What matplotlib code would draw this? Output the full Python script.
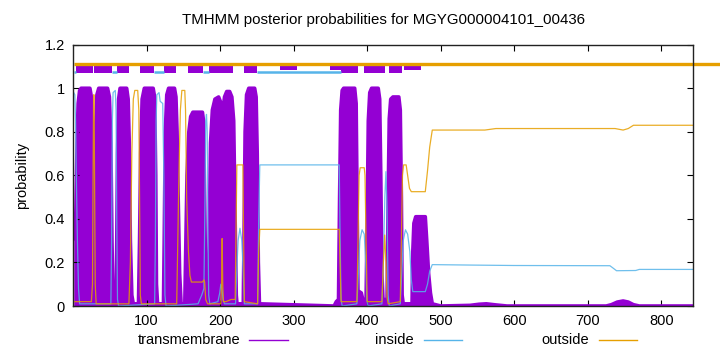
import matplotlib
matplotlib.use("Agg")
import matplotlib.pyplot as plt
from matplotlib.lines import Line2D
from matplotlib.patches import Rectangle

plt.rcParams['font.family'] = ['Liberation Sans', 'DejaVu Sans']

TITLE = "TMHMM posterior probabilities for MGYG000004101_00436"
SEQ_LEN = 843

# transmembrane posterior (key points)
tm_x = [1, 3, 4, 5.5, 7, 9, 11, 23, 25, 26.5, 27.5, 28.3, 29.2, 30.5, 32.5, 35, 47, 49.5, 51.5, 53, 54.5,
        58.5, 59.5, 60.5, 62, 64, 73, 75, 76.5, 78, 80, 82, 89, 90.5, 92, 94, 97, 109, 111, 112.5, 113.5, 115,
        123, 124, 125.5, 127.5, 130, 138, 140, 141.5, 143, 145, 147, 152, 153.5, 155, 157.5, 160, 163, 176,
        177.5, 179, 180.5, 182, 184, 185.5, 187, 189.5, 193, 198, 201.5, 202.8, 204, 206, 209, 213, 216,
        218.5, 220.5, 222, 223, 231.5, 232.5, 234, 236, 239, 247, 249, 250.5, 252, 253.5, 355, 358, 361,
        362.5, 364, 366, 368, 383, 385, 386.5, 387.5, 392, 394, 398.5, 400, 401.5, 403.5, 406, 415, 417,
        418.5, 420, 421.5, 427, 428.5, 430, 432, 435, 443, 445, 446.5, 447.5, 449, 461, 462, 463.5, 466,
        479, 481, 483.5, 486, 488.5, 500, 540, 552, 562, 575, 590, 725, 732, 740, 748, 755, 762, 770, 843]
tm_p = [0.31, 0.33, 0.45, 0.75, 0.93, 0.99, 1.0, 1.0, 0.96, 0.8, 0.3, 0.01, 0.3, 0.8, 0.97, 1.0, 1.0, 0.96,
        0.75, 0.3, 0.01, 0.01, 0.3, 0.7, 0.95, 1.0, 1.0, 0.95, 0.75, 0.3, 0.05, 0.01, 0.01, 0.3, 0.7, 0.95,
        1.0, 1.0, 0.96, 0.6, 0.1, 0.01, 0.01, 0.3, 0.8, 0.97, 1.0, 1.0, 0.96, 0.8, 0.5, 0.15, 0.01, 0.01,
        0.3, 0.6, 0.8, 0.87, 0.89, 0.89, 0.85, 0.5, 0.1, 0.01, 0.01, 0.4, 0.75, 0.9, 0.95, 0.96, 0.93, 0.6,
        0.9, 0.96, 0.985, 0.985, 0.96, 0.85, 0.4, 0.05, 0.01, 0.01, 0.3, 0.8, 0.97, 1.0, 1.0, 0.96, 0.7,
        0.2, 0.01, 0.0, 0.02, 0.03, 0.5, 0.9, 0.99, 1.0, 1.0, 0.93, 0.4, 0.07, 0.06, 0.03, 0.03, 0.4, 0.85,
        0.98, 1.0, 1.0, 0.95, 0.6, 0.15, 0.03, 0.03, 0.5, 0.86, 0.95, 0.96, 0.96, 0.9, 0.5, 0.05, 0.01,
        0.01, 0.25, 0.38, 0.41, 0.41, 0.3, 0.15, 0.06, 0.01, 0.0, 0.003, 0.008, 0.01, 0.005, 0.0, 0.0,
        0.006, 0.018, 0.023, 0.018, 0.006, 0.0, 0.0]

# inside posterior
in_x = [1, 2.5, 3.5, 4.5, 6, 7.5, 9, 51.5, 52.5, 53.5, 54.5, 57.5, 58.5, 59.5, 60.5, 62, 111, 112, 113, 114,
        117, 118.5, 122, 123.5, 125, 126.5, 170, 175, 178, 179.5, 180.5, 181.5, 182.5, 183.5, 184.5, 186,
        197, 199.5, 201, 202.5, 204, 206, 221, 222.5, 224.5, 227, 229.5, 231.5, 233, 251, 252.5, 254, 362,
        363, 364.5, 366, 386, 388, 390, 393, 396, 398, 399.5, 401, 420, 422, 424, 425.5, 427, 428.5, 430,
        445, 447, 449, 452, 455, 458, 460, 462, 479, 482, 485, 488.5, 540, 600, 730, 734, 739, 765, 770, 843]
in_p = [0.98, 0.97, 0.85, 0.6, 0.3, 0.08, 0.01, 0.01, 0.3, 0.85, 0.98, 0.99, 0.9, 0.4, 0.03, 0.0, 0.01, 0.3,
        0.85, 0.97, 0.98, 0.94, 0.93, 0.6, 0.05, 0.0, 0.01, 0.05, 0.08, 0.5, 0.85, 0.88, 0.8, 0.35, 0.05,
        0.01, 0.02, 0.06, 0.1, 0.08, 0.03, 0.01, 0.01, 0.15, 0.3, 0.357, 0.3, 0.15, 0.01, 0.01, 0.4, 0.648,
        0.648, 0.35, 0.03, 0.0, 0.01, 0.15, 0.3, 0.35, 0.33, 0.2, 0.03, 0.0, 0.01, 0.2, 0.5, 0.617, 0.45,
        0.05, 0.0, 0.01, 0.15, 0.3, 0.35, 0.33, 0.25, 0.12, 0.066, 0.066, 0.1, 0.16, 0.19, 0.188, 0.186,
        0.185, 0.175, 0.162, 0.163, 0.168, 0.168]

# outside posterior
out_x = [1, 25, 26.5, 27.3, 28, 28.6, 29.3, 30.2, 31.5, 76, 78, 80, 82, 84, 88, 89.5, 90.5, 91.5, 93, 141,
         142.5, 144, 146, 148, 152, 153, 154.5, 157, 159, 161, 176, 178, 179, 180.5, 183, 201, 202, 202.8,
         203.6, 204.5, 208, 215, 220.5, 221.5, 222.8, 231, 232, 233, 251, 252.5, 254, 362, 363, 364.5, 386,
         387.5, 389, 390.5, 396, 397, 398.5, 400, 420, 422, 423.8, 425.5, 427, 428.5, 445, 446.5, 448, 449.5,
         453, 455, 457.5, 460, 479, 482, 485, 488.5, 560, 575, 737, 748, 755, 762, 843]
out_p = [0.02, 0.02, 0.1, 0.6, 0.97, 0.97, 0.6, 0.1, 0.01, 0.01, 0.2, 0.7, 0.95, 0.99, 0.99, 0.9, 0.5, 0.05,
         0.01, 0.01, 0.3, 0.6, 0.9, 0.99, 0.99, 0.9, 0.5, 0.25, 0.14, 0.11, 0.11, 0.12, 0.11, 0.03, 0.01,
         0.01, 0.1, 0.31, 0.1, 0.02, 0.02, 0.03, 0.03, 0.3, 0.648, 0.648, 0.3, 0.02, 0.01, 0.25, 0.352,
         0.352, 0.2, 0.02, 0.02, 0.3, 0.6, 0.635, 0.635, 0.6, 0.3, 0.02, 0.02, 0.2, 0.326, 0.2, 0.04, 0.01,
         0.02, 0.3, 0.6, 0.648, 0.648, 0.6, 0.54, 0.525, 0.525, 0.62, 0.73, 0.808, 0.808, 0.815, 0.815,
         0.808, 0.815, 0.83, 0.83]

# predicted topology (top strip)
tm_start = [3.5, 29, 59.5, 91.4, 124, 156, 185.5, 233, 364, 396, 430]
tm_end = [27.7, 52.5, 76.8, 110.8, 140.5, 177, 217.7, 250.5, 387, 423.6, 448]
extra_start = [282, 349.7, 450.6]
extra_end = [305, 364, 473.4]
inside_start = [1, 52.5, 110.8, 177, 250.5]
inside_end = [3.5, 59.5, 124, 185.5, 364]

PURPLE = '#9400D3'
BLUE = '#56B4E9'
ORANGE = '#E69F00'

W, H = 720, 352
fig = plt.figure(figsize=(W / 100, H / 100), dpi=100)
L, R, T, B = 73, 693, 44.7, 306
ax = fig.add_axes([L / W, 1 - B / H, (R - L) / W, (B - T) / H])

ax.fill_between(tm_x, 0, tm_p, color=PURPLE, lw=0)
ax.plot(tm_x, tm_p, color=PURPLE, lw=2.6)
ax.plot(in_x, in_p, color=BLUE, lw=0.9, alpha=0.85)
ax.plot(out_x, out_p, color=ORANGE, lw=0.9, alpha=0.85)

# top strip
for s, e in zip(extra_start, extra_end):
    ax.add_patch(Rectangle((s, 1.084), e - s, 1.11 - 1.084, color=PURPLE, lw=0))
for s, e in zip(inside_start, inside_end):
    ax.plot([s, e], [1.0726, 1.0726], color=BLUE, lw=1.8, solid_capstyle='butt')
ax.plot([1, 1000], [1.1125, 1.1125], color=ORANGE, lw=2.4, clip_on=False, solid_capstyle='butt')
for s, e in zip(tm_start, tm_end):
    ax.add_patch(Rectangle((s, 1.069), e - s, 1.117 - 1.069, color=PURPLE, lw=0))

ax.set_xlim(0, SEQ_LEN)
ax.set_ylim(0, 1.2)
ax.set_xticks([100, 200, 300, 400, 500, 600, 700, 800])
ax.set_yticks([0, 0.2, 0.4, 0.6, 0.8, 1.0, 1.2])
ax.set_yticklabels([f"{v:g}" for v in [0, 0.2, 0.4, 0.6, 0.8, 1.0, 1.2]])
ax.tick_params(direction='in', length=4, width=0.8, top=True, right=True, labelsize=10.5,
               colors='#000000', pad=6)
for sp in ax.spines.values():
    sp.set_linewidth(1.0)
    sp.set_color('#222222')

fig.text(383 / W, 1 - 20 / H, TITLE, ha='center', va='center', fontsize=10.8)
fig.text(22 / W, 1 - 175 / H, 'probability', rotation=90, ha='center', va='center', fontsize=10.5)

legend = [("transmembrane", PURPLE, 240, 249, 288),
          ("inside", BLUE, 414, 424, 462),
          ("outside", ORANGE, 589, 599, 637)]
ly = 1 - 340 / H
for lab, col, tx, x0, x1 in legend:
    fig.text(tx / W, ly, lab, ha='right', va='center', fontsize=10.5)
    fig.add_artist(Line2D([x0 / W, x1 / W], [ly, ly], color=col, lw=1.0))

fig.savefig('out.png', dpi=100)
